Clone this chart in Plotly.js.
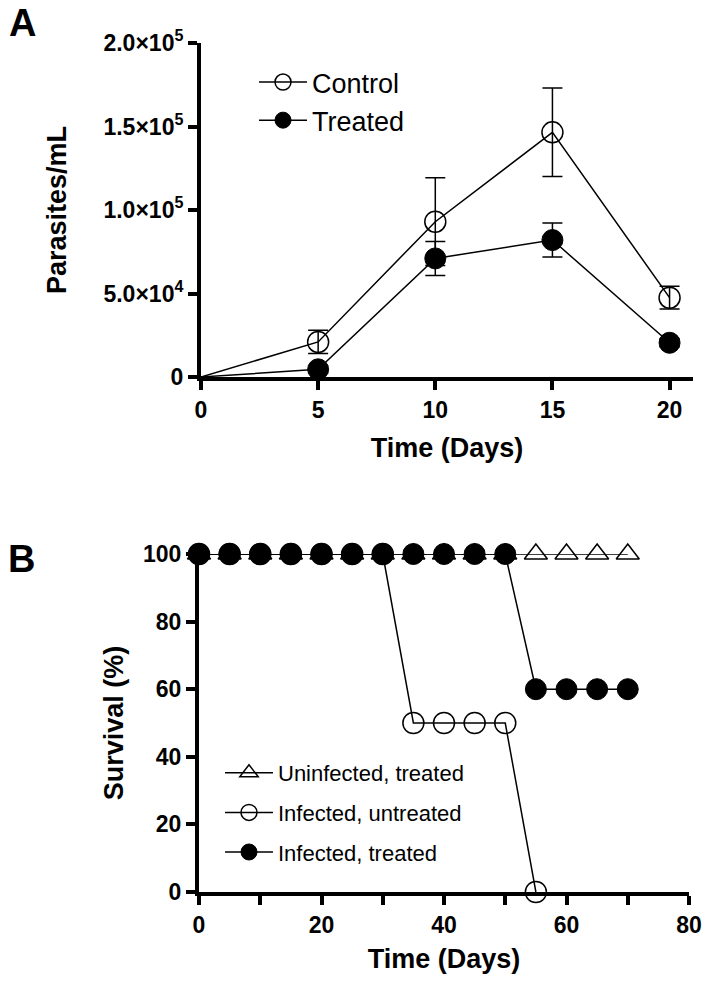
<!DOCTYPE html>
<html>
<head>
<meta charset="utf-8">
<script src="https://cdn.plot.ly/plotly-3.0.1.min.js"></script>
<style>html,body{margin:0;padding:0;background:#fff;}#chart{width:727px;height:983px;}</style>
</head>
<body>
<div id="chart"></div>
<script>
// Panel A: parasitemia
const daysA = [0, 5, 10, 15, 20];
const controlMean = [0, 21000, 93000, 146500, 47500];
const controlErr = [0, 7000, 26300, 26500, 6800];
const treatedMean = [0, 4600, 71000, 82000, 20500];
const treatedErr = [0, 2000, 10200, 10200, 2500];
const yTickValsA = [0, 50000, 100000, 150000, 200000];
const yTickTextA = ['0', '5.0×10<sup>4</sup>', '1.0×10<sup>5</sup>', '1.5×10<sup>5</sup>', '2.0×10<sup>5</sup>'];

// Panel B: survival
const daysB = [0, 5, 10, 15, 20, 25, 30, 35, 40, 45, 50, 55, 60, 65, 70];
const uninfTreated = [100, 100, 100, 100, 100, 100, 100, 100, 100, 100, 100, 100, 100, 100, 100];
const daysUntreated = [0, 5, 10, 15, 20, 25, 30, 35, 40, 45, 50, 55];
const infUntreated = [100, 100, 100, 100, 100, 100, 100, 50, 50, 50, 50, 0];
const infTreated = [100, 100, 100, 100, 100, 100, 100, 100, 100, 100, 100, 60, 60, 60, 60];
const xTickValsB = [0, 10, 20, 30, 40, 50, 60, 70, 80];
const xTickTextB = ['0', '', '20', '', '40', '', '60', '', '80'];

const FONT = 'Liberation Sans, Arial, Helvetica, sans-serif';
const lineStyle = {color: '#000', width: 1.5};
const MS = 21;
// no marker drawn at the day-0 origin point in panel A
const sizesA = daysA.map(d => (d === 0 ? 0 : MS));

const traces = [
  {x: daysA, y: controlMean, name: 'Control', type: 'scatter', mode: 'lines+markers',
   xaxis: 'x', yaxis: 'y', legend: 'legend', cliponaxis: false,
   line: lineStyle,
   marker: {symbol: 'circle-open', size: sizesA, opacity: 1, color: '#000', line: {width: 1.5, color: '#000'}},
   error_y: {type: 'data', array: controlErr, visible: true, color: '#000', thickness: 1.5, width: 10}},
  {x: daysA, y: treatedMean, name: 'Treated', type: 'scatter', mode: 'lines+markers',
   xaxis: 'x', yaxis: 'y', legend: 'legend', cliponaxis: false,
   line: lineStyle,
   marker: {symbol: 'circle', size: sizesA, opacity: 1, color: '#000', line: {width: 1, color: '#000'}},
   error_y: {type: 'data', array: treatedErr, visible: true, color: '#000', thickness: 1.5, width: 10}},
  {x: daysB, y: uninfTreated, name: 'Uninfected, treated', type: 'scatter', mode: 'lines+markers',
   xaxis: 'x2', yaxis: 'y2', legend: 'legend2', legendgroup: 'g1', cliponaxis: false,
   line: lineStyle,
   marker: {symbol: 'triangle-up-open', size: 20, color: '#000', line: {width: 1.5, color: '#000'}}},
  {x: daysUntreated, y: infUntreated, name: 'Infected, untreated', type: 'scatter', mode: 'lines+markers',
   xaxis: 'x2', yaxis: 'y2', legend: 'legend2', legendgroup: 'g2', cliponaxis: false,
   line: lineStyle,
   marker: {symbol: 'circle-open', size: MS, color: '#000', line: {width: 1.5, color: '#000'}}},
  {x: daysB, y: infTreated, name: 'Infected, treated', type: 'scatter', mode: 'lines+markers',
   xaxis: 'x2', yaxis: 'y2', legend: 'legend2', legendgroup: 'g3', cliponaxis: false,
   line: lineStyle,
   marker: {symbol: 'circle', size: MS, color: '#000', line: {width: 1, color: '#000'}}}
];

const axisCommon = {
  showgrid: false, zeroline: false, showline: true, linecolor: '#000', linewidth: 4,
  ticks: 'outside', ticklen: 9, tickwidth: 4, tickcolor: '#000',
  tickfont: {family: FONT, size: 23, color: '#000', weight: 'bold'}, fixedrange: true
};
const titleFont = {family: FONT, size: 27, color: '#000', weight: 'bold'};

const layout = {
  width: 727, height: 983,
  margin: {l: 0, r: 0, t: 0, b: 0},
  paper_bgcolor: '#fff', plot_bgcolor: 'rgba(0,0,0,0)',
  showlegend: true,
  xaxis: Object.assign({}, axisCommon, {
    domain: [201/727, 693/727], range: [0, 21], anchor: 'y',
    tickvals: daysA, ticktext: daysA.map(String),
    title: {text: 'Time (Days)', font: titleFont, standoff: 18}
  }),
  yaxis: Object.assign({}, axisCommon, {
    domain: [(983-377)/983, (983-43)/983], range: [0, 200000], anchor: 'x',
    tickvals: yTickValsA, ticktext: yTickTextA,
    title: {text: 'Parasites/mL', font: titleFont, standoff: 30}
  }),
  xaxis2: Object.assign({}, axisCommon, {
    domain: [199/727, 689/727], range: [0, 80], anchor: 'y2',
    tickvals: xTickValsB, ticktext: xTickTextB,
    title: {text: 'Time (Days)', font: titleFont, standoff: 14}
  }),
  yaxis2: Object.assign({}, axisCommon, {
    domain: [(983-892)/983, (983-554)/983], range: [0, 100], anchor: 'x2',
    tickvals: [0, 20, 40, 60, 80, 100], ticktext: ['0', '20', '40', '60', '80', '100'],
    title: {text: 'Survival (%)', font: titleFont, standoff: 13}
  }),
  legend: {
    x: 254/727, y: 1 - 58/983, xanchor: 'left', yanchor: 'top', xref: 'paper', yref: 'paper',
    bgcolor: 'rgba(0,0,0,0)', borderwidth: 0,
    font: {family: FONT, size: 27, color: '#000'}, itemwidth: 48, tracegroupgap: 4
  },
  legend2: {
    x: 220/727, y: 1 - 752/983, xanchor: 'left', yanchor: 'top', xref: 'paper', yref: 'paper',
    bgcolor: 'rgba(0,0,0,0)', borderwidth: 0,
    font: {family: FONT, size: 22, color: '#000'}, itemwidth: 48, tracegroupgap: 8
  },
  annotations: [
    {text: 'A', xref: 'paper', yref: 'paper', x: 7/727, y: 1 - 0/983, xanchor: 'left', yanchor: 'top',
     showarrow: false, font: {family: FONT, size: 38, color: '#000', weight: 'bold'}},
    {text: 'B', xref: 'paper', yref: 'paper', x: 6/727, y: 1 - 536/983, xanchor: 'left', yanchor: 'top',
     showarrow: false, font: {family: FONT, size: 38, color: '#000', weight: 'bold'}}
  ]
};

Plotly.newPlot('chart', traces, layout, {displayModeBar: false, staticPlot: true});
</script>
</body>
</html>
